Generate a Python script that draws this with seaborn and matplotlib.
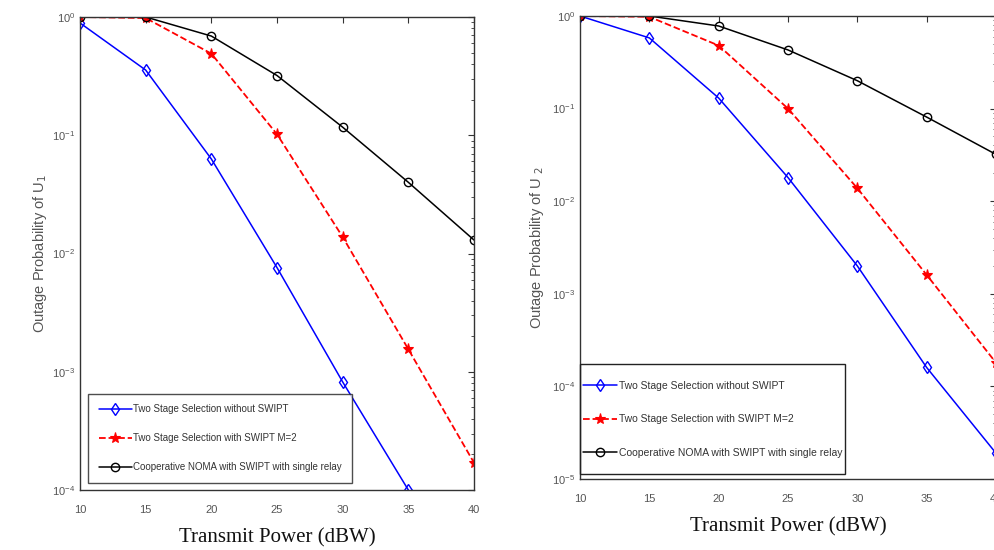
import numpy as np
import pandas as pd
import matplotlib
matplotlib.use("Agg")
import matplotlib.pyplot as plt
import seaborn as sns
from matplotlib.ticker import LogLocator, NullFormatter
from matplotlib.patches import Rectangle

power = [10, 15, 20, 25, 30, 35, 40]
series_names = ["Two Stage Selection without SWIPT",
                "Two Stage Selection with SWIPT M=2",
                "Cooperative NOMA with SWIPT with single relay"]

# User 1 outage
u1_no_swipt = [0.89, 0.356, 0.063, 0.0076, 8.2e-4, 1.0e-4, np.nan]
u1_swipt_m2 = [1.0, 0.98, 0.49, 0.102, 0.0138, 1.55e-3, 1.7e-4]
u1_coop = [1.0, 1.0, 0.69, 0.32, 0.117, 0.040, 0.013]

# User 2 outage
u2_no_swipt = [1.0, 0.58, 0.13, 0.018, 2.0e-3, 1.6e-4, 1.9e-5]
u2_swipt_m2 = [1.0, 0.98, 0.48, 0.10, 0.0138, 1.6e-3, 1.8e-4]
u2_coop = [1.0, 1.0, 0.78, 0.43, 0.20, 0.081, 0.032]

sns.set_style("white")
plt.rcParams['font.family'] = ['Liberation Sans', 'DejaVu Sans']

fig = plt.figure(figsize=(9.95, 5.5), dpi=100)
ax1 = fig.add_axes([80/995, 60/550, 394/995, 473/550])
ax2 = fig.add_axes([580/995, 71/550, 416/995, 463/550])

styles = [dict(color="#0000ff", marker="d", linestyle="-", mfc="none", ms=6, mew=1.0, lw=1.1),
          dict(color="#ff0000", marker="*", linestyle="--", mfc="#ff0000", ms=8, mew=0.8, lw=1.3),
          dict(color="#000000", marker="o", linestyle="-", mfc="none", ms=6, mew=1.0, lw=1.1)]

def draw(ax, data, ylo, ylabel, ylab_x):
    for name, vals, st in zip(series_names, data, styles):
        df = pd.DataFrame({"x": power, "y": vals}).dropna()
        sns.lineplot(data=df, x="x", y="y", ax=ax, color=st["color"], marker=st["marker"],
                     linestyle=st["linestyle"], markerfacecolor=st["mfc"], markeredgecolor=st["color"],
                     markersize=st["ms"], markeredgewidth=st["mew"], linewidth=st["lw"], label=name)
    ax.set_yscale("log")
    ax.set_xlim(10, 40)
    ax.set_ylim(ylo, 1)
    ax.set_xticks(power)
    ax.yaxis.set_major_locator(LogLocator(base=10, numticks=10))
    ax.yaxis.set_minor_locator(LogLocator(base=10, subs=np.arange(2, 10), numticks=20))
    ax.yaxis.set_minor_formatter(NullFormatter())
    ax.tick_params(which="both", direction="in", top=True, right=True, colors="#333333",
                   labelsize=8, labelcolor="#555555")
    ax.tick_params(axis="x", which="major", pad=11)
    ax.tick_params(which="major", length=4)
    ax.tick_params(which="minor", length=2)
    for s in ax.spines.values():
        s.set_color("#333333")
        s.set_linewidth(1.0)
    ax.set_xlabel("Transmit Power (dBW)", family="Liberation Serif", fontsize=15, color="#111111", labelpad=9)
    ax.set_ylabel(ylabel, fontsize=10.5, color="#555555")
    ax.yaxis.set_label_coords(ylab_x, 0.5)

draw(ax1, [u1_no_swipt, u1_swipt_m2, u1_coop], 1e-4, "Outage Probability of U$_1$", -31/394)
draw(ax2, [u2_no_swipt, u2_swipt_m2, u2_coop], 1e-5, "Outage Probability of U $_2$", -34/416)

# left legend
leg1 = ax1.legend(loc="lower left", bbox_to_anchor=(0.02, 0.015), fontsize=7, frameon=True,
                  fancybox=False, edgecolor="#222222", handlelength=3.4, handletextpad=0.1,
                  labelspacing=1.94, borderpad=1.1, borderaxespad=0)
leg1.get_frame().set_linewidth(1.0)
for t in leg1.get_texts():
    t.set_color("#333333")

# right legend (frame drawn separately: tall box, narrow side padding)
leg2 = ax2.legend(loc="lower left", bbox_to_anchor=(0.0, 0.039), fontsize=7.5, frameon=False,
                  handlelength=3.3, handletextpad=0.1, labelspacing=2.26, borderpad=0.3,
                  borderaxespad=0)
for t in leg2.get_texts():
    t.set_color("#333333")
ax2.add_patch(Rectangle((0.0, 0.011), 0.637, 0.2376, transform=ax2.transAxes, fill=False,
                        edgecolor="#222222", linewidth=1.0, zorder=5, clip_on=False))

fig.savefig("out.png", dpi=100)
